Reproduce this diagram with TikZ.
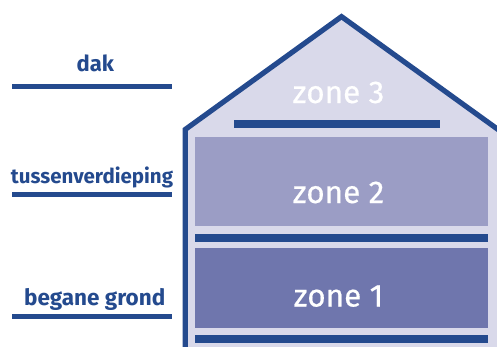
\documentclass[tikz,border=0pt]{standalone}
\usepackage{fontspec}
\setmainfont{Fira Sans}
\newfontfamily\zonefont[FakeBold=0.5]{Fira Sans}
\definecolor{dblue}{HTML}{244A8E}
\definecolor{housefill}{HTML}{D9D9EA}
\definecolor{ztwo}{HTML}{9B9DC5}
\definecolor{zone}{HTML}{6F76AD}
\tikzset{
  lbl/.style={text=dblue, font=\bfseries\fontsize{20.5}{20.5}\selectfont, anchor=base, inner sep=0pt},
  zlbl/.style={text=white, font=\zonefont\fontsize{31.5}{31.5}\selectfont, anchor=base, inner sep=0pt},
  bar/.style={fill=dblue},
}
\begin{document}
\begin{tikzpicture}[x=1pt,y=-1pt]
\useasboundingbox (0,0) rectangle (497,346);
\clip (0,0) rectangle (497,346);
% house
\filldraw[fill=housefill, draw=dblue, line width=5.2pt, miter limit=10]
  (185.2,360) -- (185.2,129.5) -- (341.5,16.6) -- (501.5,132) -- (501.5,360);
% zones
\fill[ztwo] (195,136.7) rectangle (487.5,226);
\fill[zone] (195,248.3) rectangle (487.5,328.3);
\fill[bar] (234.3,120) rectangle (440,127.7);
\fill[bar] (195,234) rectangle (487.5,242.3);
\fill[bar] (195,335) rectangle (487.5,342.7);
\node[zlbl] (z3) at (338.5,103) {zone 3};
\node[zlbl] (z2) at (338.5,203) {zone 2};
\node[zlbl] (z1) at (338.5,306.5) {zone 1};
% left labels
\fill[bar] (11.7,84) rectangle (171.5,88.5);
\fill[bar] (11.7,192) rectangle (171.5,196.5);
\fill[bar] (11.7,314) rectangle (171.5,318.5);
\node[lbl, font=\bfseries\fontsize{22}{22}\selectfont] (dak) at (95.3,71.7) {dak};
\node[lbl] (tus) at (92,183.3) {tussenverdieping};
\node[lbl, font=\bfseries\fontsize{22.5}{22.5}\selectfont] (beg) at (94.7,305) {begane grond};
\end{tikzpicture}
\end{document}
